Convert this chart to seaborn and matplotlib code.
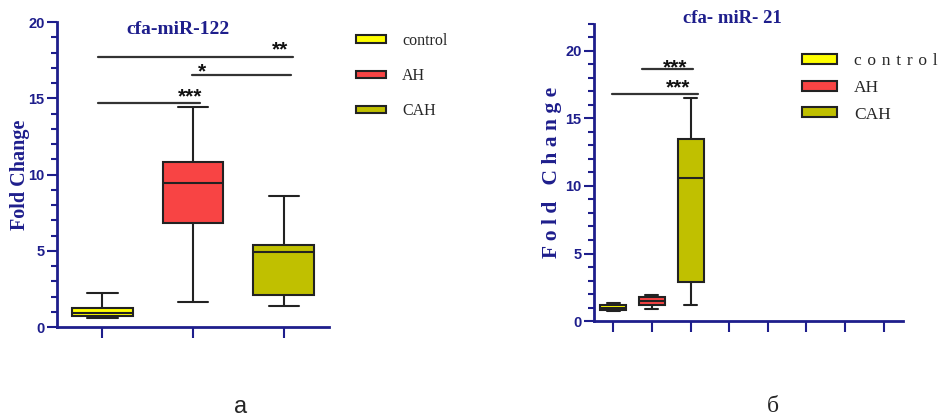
import numpy as np
import pandas as pd
import seaborn as sns
import matplotlib.pyplot as plt
from matplotlib.patches import Patch
from matplotlib.ticker import MultipleLocator

# five-number summaries (min, q1, median, q3, max)
groups = ['control', 'AH', 'CAH']
mir122 = {
    'control': [0.6, 0.75, 0.9, 1.25, 2.25],
    'AH': [1.65, 6.8, 9.45, 10.85, 14.4],
    'CAH': [1.4, 2.1, 4.95, 5.4, 8.6],
}
mir21 = {
    'control': [0.75, 0.8, 1.0, 1.18, 1.35],
    'AH': [0.92, 1.15, 1.48, 1.75, 1.9],
    'CAH': [1.2, 2.9, 10.6, 13.5, 16.5],
}
colors = {'control': '#FFFF00', 'AH': '#F84444', 'CAH': '#C0C000'}
legend21 = ['c\u2004o\u2004n\u2004t\u2004r\u2004o\u2004l', 'AH', 'CAH']

# significance bars: (label, x_start, x_end, y_line, x_label, y_label)
sig122 = [('***', -0.05, 1.08, 14.7, 0.97, 15.4),
          ('*', 0.99, 2.08, 16.5, 1.10, 17.05),
          ('**', -0.05, 2.1, 17.7, 1.96, 18.5)]
sig21 = [('***', 0.75, 2.05, 18.7, 1.6, 19.06),
         ('***', -0.03, 2.18, 16.8, 1.68, 17.6)]

navy = '#1E1E8C'
edge = '#222222'

sns.set_style('ticks')
plt.rcParams['font.family'] = ['Liberation Sans', 'DejaVu Sans']


def to_long(d):
    rows = [(g, v) for g in groups for v in d[g]]
    return pd.DataFrame(rows, columns=['group', 'value'])


def style_axis(ax, ymax, ncat):
    ax.set_ylim(0, ymax)
    ax.set_xlim(-0.5, ncat - 0.5)
    ax.set_xticks(range(ncat))
    ax.set_xticklabels([''] * ncat)
    ax.set_xlabel('')
    ax.set_yticks([0, 5, 10, 15, 20])
    ax.yaxis.set_minor_locator(MultipleLocator(1))
    for s in ['top', 'right']:
        ax.spines[s].set_visible(False)
    for s in ['left', 'bottom']:
        ax.spines[s].set_color(navy)
        ax.spines[s].set_linewidth(2)
    ax.tick_params(axis='y', which='major', length=7, width=1.5, color=navy,
                   labelcolor=navy, labelsize=10.5, pad=2)
    ax.tick_params(axis='y', which='minor', length=4.5, width=1.5, color=navy)
    ax.tick_params(axis='x', which='major', length=8, width=1.5, color=navy)
    for lab in ax.get_yticklabels():
        lab.set_fontweight('bold')


def draw_sig(ax, sig):
    for lab, x0, x1, y, xt, yt in sig:
        ax.plot([x0, x1], [y, y], color='#333333', lw=1.6)
        ax.text(xt, yt - 0.3, lab, ha='center', va='center', fontsize=15,
                fontweight='bold', color='#111111')


fig = plt.figure(figsize=(9.42, 4.2), dpi=100)
ax1 = fig.add_axes([0.0605, 0.2214, 0.2889, 0.7262])
ax2 = fig.add_axes([0.6306, 0.2357, 0.3280, 0.7072])

for ax, d in [(ax1, mir122), (ax2, mir21)]:
    sns.boxplot(data=to_long(d), x='group', y='value', hue='group', order=groups,
                palette=colors, saturation=1, width=0.67, whis=(0, 100),
                linecolor=edge, linewidth=1.5, legend=False, ax=ax)

style_axis(ax1, 20, 3)
style_axis(ax2, 22, 8)
draw_sig(ax1, sig122)
draw_sig(ax2, sig21)

# titles
ax1.text(0.445, 0.974, 'cfa-miR-122', transform=ax1.transAxes, ha='center',
         va='center', fontsize=14, fontweight='bold', color=navy,
         family='Liberation Serif')
ax2.text(0.447, 1.017, 'cfa- miR- 21', transform=ax2.transAxes, ha='center',
         va='center', fontsize=13.5, fontweight='bold', color=navy,
         family='Liberation Serif')

# y labels
ax1.set_ylabel('Fold Change', fontsize=14.5, fontweight='bold', color=navy,
               family='Liberation Serif')
ax1.yaxis.set_label_coords(-0.1, 0.5)
ax2.set_ylabel('F o l d   C h a n g e', fontsize=15.5, fontweight='bold',
               color=navy, family='Liberation Serif')
ax2.yaxis.set_label_coords(-0.105, 0.5)

# legends
handles = [Patch(facecolor=colors[g], edgecolor=edge, linewidth=1.5) for g in groups]
ax1.legend(handles, groups, loc='upper left', bbox_to_anchor=(356 / 942, 1 - 33 / 420),
           bbox_transform=fig.transFigure, frameon=False, borderpad=0,
           borderaxespad=0, handlelength=1.9, handleheight=0.35,
           handletextpad=1.0, labelspacing=1.2,
           prop={'family': 'Liberation Serif', 'size': 11.5})
ax2.legend(handles, legend21, loc='upper left',
           bbox_to_anchor=(802 / 942, 1 - 53 / 420),
           bbox_transform=fig.transFigure, frameon=False, borderpad=0,
           borderaxespad=0, handlelength=2.0, handleheight=0.5,
           handletextpad=1.0, labelspacing=0.62,
           prop={'family': ['Liberation Serif', 'DejaVu Serif'], 'size': 12.5})

# panel letters
fig.text(241 / 942, 1 - 407 / 420, 'а', ha='center', va='center', fontsize=17,
         family=['Liberation Sans Narrow', 'Liberation Sans'])
fig.text(773 / 942, 1 - 407 / 420, 'б', ha='center', va='center', fontsize=17,
         family='Liberation Serif')

fig.savefig('out.png', dpi=100)
